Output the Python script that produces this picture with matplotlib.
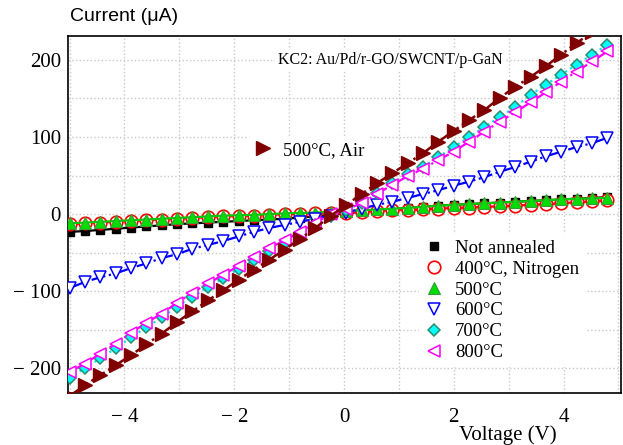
import matplotlib
matplotlib.use("Agg")
import matplotlib.pyplot as plt
from matplotlib.lines import Line2D

# voltage sweep (V)
voltage = [-5.00, -4.72, -4.44, -4.16, -3.88, -3.60, -3.32, -3.04, -2.76, -2.48,
           -2.20, -1.92, -1.64, -1.36, -1.08, -0.80, -0.52, -0.24, 0.04, 0.32,
           0.60, 0.88, 1.16, 1.44, 1.72, 2.00, 2.28, 2.56, 2.84, 3.12,
           3.40, 3.68, 3.96, 4.24, 4.52, 4.80]

# current (uA) for each anneal condition
not_annealed = [-23, -22, -20.5, -19, -17.5, -16, -14.5, -13, -12, -11,
                -10, -9, -8, -7, -6, -4.5, -3, -1, 1, 3,
                5, 6.5, 8, 9.5, 11, 12, 13, 14, 15, 16,
                17, 18, 19, 20, 21, 22]
n2_400 = [-13, -12, -11, -10, -9, -8, -7, -6, -5, -4,
          -3, -2.5, -2, -1, 0, 0.5, 1, 1.5, 2, 3,
          4, 5, 5.5, 6, 7, 8, 8.5, 9.5, 10, 11,
          12, 13, 14, 15.5, 16.5, 18]
t500 = [-12, -11, -10, -9, -8, -7, -6, -5, -4, -3,
        -2, -1.5, -1, 0, 1, 1.5, 2, 3, 4, 5,
        6, 7, 8, 9.5, 11, 12, 13, 14, 15, 16,
        17, 18, 19, 20, 20.5, 21]
t600 = [-96, -88, -82, -77, -70, -64, -57, -52, -45, -40,
        -35, -29, -23, -18, -14, -10, -6, -2, 2, 7,
        12, 16, 21, 26, 31, 37, 42, 48, 55, 61,
        68, 75, 81, 87, 92, 99]
t700 = [-212, -200, -187, -174, -160, -147, -134, -120, -107, -95,
        -83, -71, -60, -48, -37, -26, -14, -3, 5, 15,
        27, 40, 52, 61, 74, 87, 100, 113, 126, 139,
        155, 168, 181, 194, 207, 220]
t800 = [-205, -194, -181, -168, -154, -141, -129, -115, -102, -90,
        -79, -67, -56, -44, -34, -23, -11, 0, 6, 14,
        26, 38, 49, 59, 70, 81, 94, 107, 120, 132,
        145, 158, 172, 185, 198, 211]
air_500 = [-236, -222, -209, -196, -183, -169, -155, -140, -126, -112,
           -99, -85, -72, -59, -46, -32, -18, -2, 12, 26,
           40, 53, 66, 79, 94, 108, 122, 135, 151, 165,
           178, 192, 207, 222, 236, 250]

serif = "Liberation Serif"

fig = plt.figure(figsize=(6.23, 4.45), dpi=100)
ax = fig.add_axes([0.109, 0.117, 0.888, 0.802])

series = [
    (not_annealed, "Not annealed", dict(marker="s", ms=6, mfc="black", mec="black"), dict(color="black", ls="-")),
    (n2_400, "400°C, Nitrogen", dict(marker="o", ms=9, mfc="white", mec="red", mew=1.2), dict(color="red", ls="-")),
    (t500, "500°C", dict(marker="^", ms=9, mfc="#00dd00", mec="#3a9a3a", mew=0.8), dict(color="#00cc00", ls="-")),
    (t600, "600°C", dict(marker="v", ms=8.5, mfc="white", mec="blue", mew=1.1), dict(color="blue", ls="-.")),
    (t700, "700°C", dict(marker="D", ms=6.5, mfc="#00ffff", mec="#2e8b6e", mew=1.1), dict(color="#00e5e5", ls=":")),
    (t800, "800°C", dict(marker="<", ms=8.5, mfc="white", mec="#ff00ff", mew=1.1), dict(color="#ff00ff", ls="-.")),
]

handles = []
for i, (cur, name, mk, ln) in enumerate(series):
    ax.plot(voltage, cur, lw=1.6, zorder=2 + i, **ln)
    ax.plot(voltage, cur, ls="none", zorder=2 + i, **mk)
    handles.append(Line2D([], [], ls="none", label=name, **mk))

ax.plot(voltage, air_500, color="#800000", ls="-.", lw=1.8, zorder=10)
ax.plot(voltage, air_500, ls="none", marker=">", ms=9.5, mfc="#800000", mec="#800000", zorder=10)
air_handle = Line2D([], [], ls="none", marker=">", ms=9.5, mfc="#800000", mec="#800000", label="500°C, Air")

ax.set_xlim(-5.03, 5.05)
ax.set_ylim(-232, 231)

ax.set_xticks([-4, -2, 0, 2, 4])
ax.set_xticklabels(["− 4", "− 2", "0", "2", "4"], fontfamily=serif, fontsize=15)
ax.set_xticks([-5, -3, -1, 1, 3, 5], minor=True)
ax.set_yticks([-200, -100, 0, 100, 200])
ax.set_yticklabels(["− 200", "− 100", "0", "100", "200"], fontfamily=serif, fontsize=15)
ax.set_yticks([-150, -50, 50, 150], minor=True)
ax.tick_params(which="both", length=0)
ax.tick_params(axis="x", pad=11)
ax.tick_params(axis="y", pad=5)
ax.grid(True, which="both", color="#c8c8c8", ls=":", lw=1)
ax.set_axisbelow(True)
for sp in ax.spines.values():
    sp.set_linewidth(1.2)

fig.text(0.113, 0.962, "Current (μA)", fontfamily="Liberation Sans", fontsize=14, va="center")
fig.text(0.815, 0.022, "Voltage (V)", fontfamily=serif, fontsize=15, ha="center", va="center")

ax.text(0.582, 0.933, "KC2: Au/Pd/r-GO/SWCNT/p-GaN", transform=ax.transAxes,
        fontfamily=serif, fontsize=11.5, ha="center", va="center",
        bbox=dict(facecolor="white", edgecolor="none", pad=2), zorder=1.5)

leg = ax.legend(handles=handles, loc="upper left", bbox_to_anchor=(0.635, 0.445),
                frameon=True, facecolor="white", edgecolor="none", framealpha=1,
                prop=dict(family=serif, size=13.5), handlelength=1.0, handletextpad=0.6,
                labelspacing=0.2, borderpad=0.3, borderaxespad=0)
leg.set_zorder(1.5)
ax.add_artist(leg)
leg2 = ax.legend(handles=[air_handle], loc="center left", bbox_to_anchor=(0.325, 0.68),
                 frameon=True, facecolor="white", edgecolor="none", framealpha=1,
                 prop=dict(family=serif, size=13.5), handlelength=1.0, handletextpad=0.6,
                 borderpad=0.3, borderaxespad=0)
leg2.set_zorder(1.5)

fig.savefig("out.png", dpi=100)
